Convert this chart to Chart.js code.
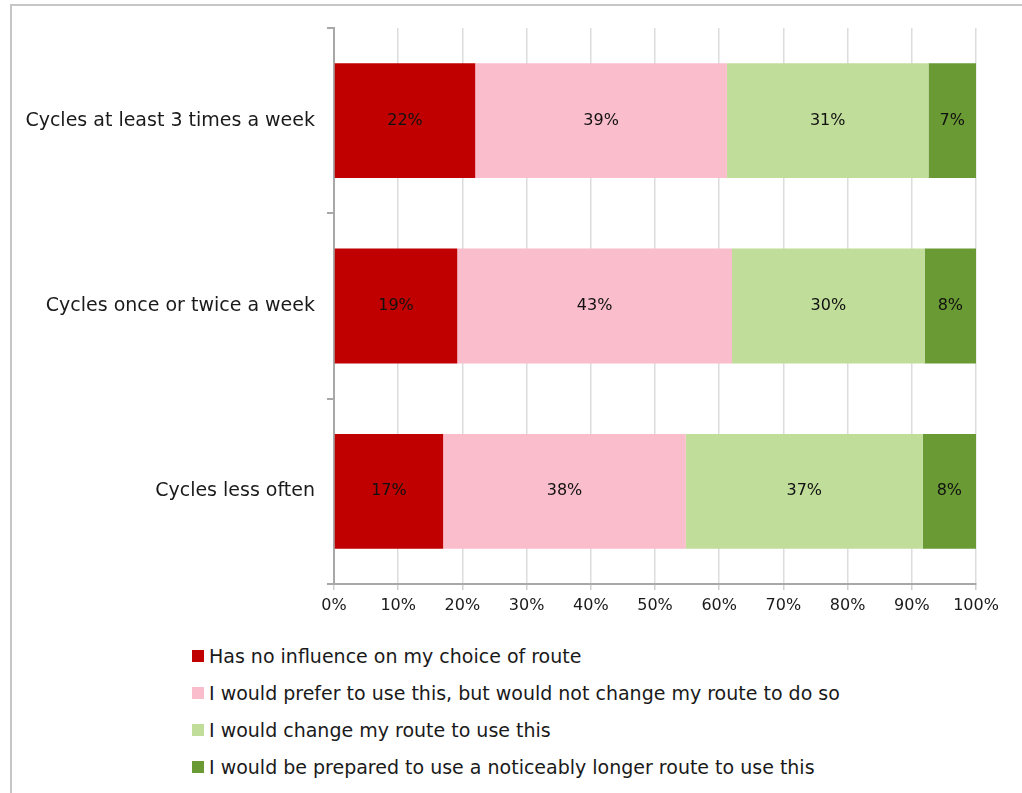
<!DOCTYPE html>
<html>
<head>
<meta charset="utf-8">
<script src="https://cdn.jsdelivr.net/npm/chart.js@4"></script>
<style>
  html, body { margin: 0; background: #fff; font-family: "DejaVu Sans", sans-serif; overflow: hidden; width: 1022px; height: 793px; }
  .frame { position: absolute; left: 10px; top: 4px; width: 1020px; height: 800px; border: 2px solid #c6c6c6; border-right: none; border-bottom: none; box-sizing: border-box; }
  #chart { position: absolute; left: 0; top: 0; }
  .legend { position: absolute; left: 192px; top: 638px; }
  .legend-item { height: 36.8px; display: flex; align-items: center; font-size: 19px; color: #1a1a1a; }
  .legend-box { width: 12px; height: 12px; margin-right: 5px; }
</style>
</head>
<body>
<div class="frame"></div>
<canvas id="chart" width="1022" height="630"></canvas>
<div class="legend" id="legend"></div>
<script>
const categories = ['Cycles at least 3 times a week', 'Cycles once or twice a week', 'Cycles less often'];
const seriesNames = [
  'Has no influence on my choice of route',
  'I would prefer to use this, but would not change my route to do so',
  'I would change my route to use this',
  'I would be prepared to use a noticeably longer route to use this'
];
const noInfluence = [22, 19.2, 17];
const preferNoChange = [39.2, 42.8, 37.8];
const wouldChange = [31.4, 30, 36.9];
const longerRoute = [7.4, 8, 8.3];
const seriesColors = ['#c00000', '#fabdcc', '#c0dd9a', '#6a9a33'];
const xTicks = [0, 10, 20, 30, 40, 50, 60, 70, 80, 90, 100];

const FONT = '"DejaVu Sans", sans-serif';

// draws the percentage in the middle of every segment
const barLabels = {
  id: 'barLabels',
  afterDatasetsDraw(chart) {
    const ctx = chart.ctx;
    ctx.save();
    ctx.font = '16px ' + FONT;
    ctx.fillStyle = '#111';
    ctx.textAlign = 'center';
    ctx.textBaseline = 'middle';
    chart.data.datasets.forEach((ds, i) => {
      chart.getDatasetMeta(i).data.forEach((bar, j) => {
        const p = bar.getCenterPoint();
        ctx.fillText(Math.round(ds.data[j]) + '%', p.x, p.y);
      });
    });
    ctx.restore();
  }
};

const allSeries = [noInfluence, preferNoChange, wouldChange, longerRoute];

const chart = new Chart(document.getElementById('chart'), {
  type: 'bar',
  data: {
    labels: categories,
    datasets: allSeries.map((d, i) => ({
      label: seriesNames[i],
      data: d,
      backgroundColor: seriesColors[i],
      borderWidth: 0,
      barPercentage: 0.62,
      categoryPercentage: 1
    }))
  },
  options: {
    indexAxis: 'y',
    responsive: false,
    animation: false,
    devicePixelRatio: 1,
    layout: { padding: { left: 0, right: 46, top: 28, bottom: 6 } },
    plugins: {
      legend: { display: false },
      tooltip: { enabled: false }
    },
    scales: {
      x: {
        stacked: true,
        min: 0,
        max: 100,
        afterBuildTicks: (scale) => { scale.ticks = xTicks.map(v => ({ value: v })); },
        afterFit: (scale) => { scale.height = 40; },
        grid: { color: '#dcdcdc', lineWidth: 1.5, tickLength: 6, tickColor: '#cfcfcf' },
        border: { color: '#a8a8a8', width: 2 },
        ticks: {
          padding: 6,
          color: '#1a1a1a',
          font: { family: FONT, size: 16 },
          callback: (v) => v + '%'
        }
      },
      y: {
        stacked: true,
        afterFit: (scale) => { scale.width = 334; },
        grid: { offset: true, drawOnChartArea: false, tickLength: 7, tickColor: '#a8a8a8', lineWidth: 2 },
        border: { color: '#a8a8a8', width: 2 },
        ticks: {
          padding: 12,
          color: '#1a1a1a',
          font: { family: FONT, size: 19 }
        }
      }
    }
  },
  plugins: [barLabels]
});

// legend as a vertical list under the chart
const legendEl = document.getElementById('legend');
chart.data.datasets.forEach((ds) => {
  const row = document.createElement('div');
  row.className = 'legend-item';
  row.innerHTML = `<span class="legend-box" style="background:${ds.backgroundColor}"></span><span>${ds.label}</span>`;
  legendEl.appendChild(row);
});
</script>
</body>
</html>
